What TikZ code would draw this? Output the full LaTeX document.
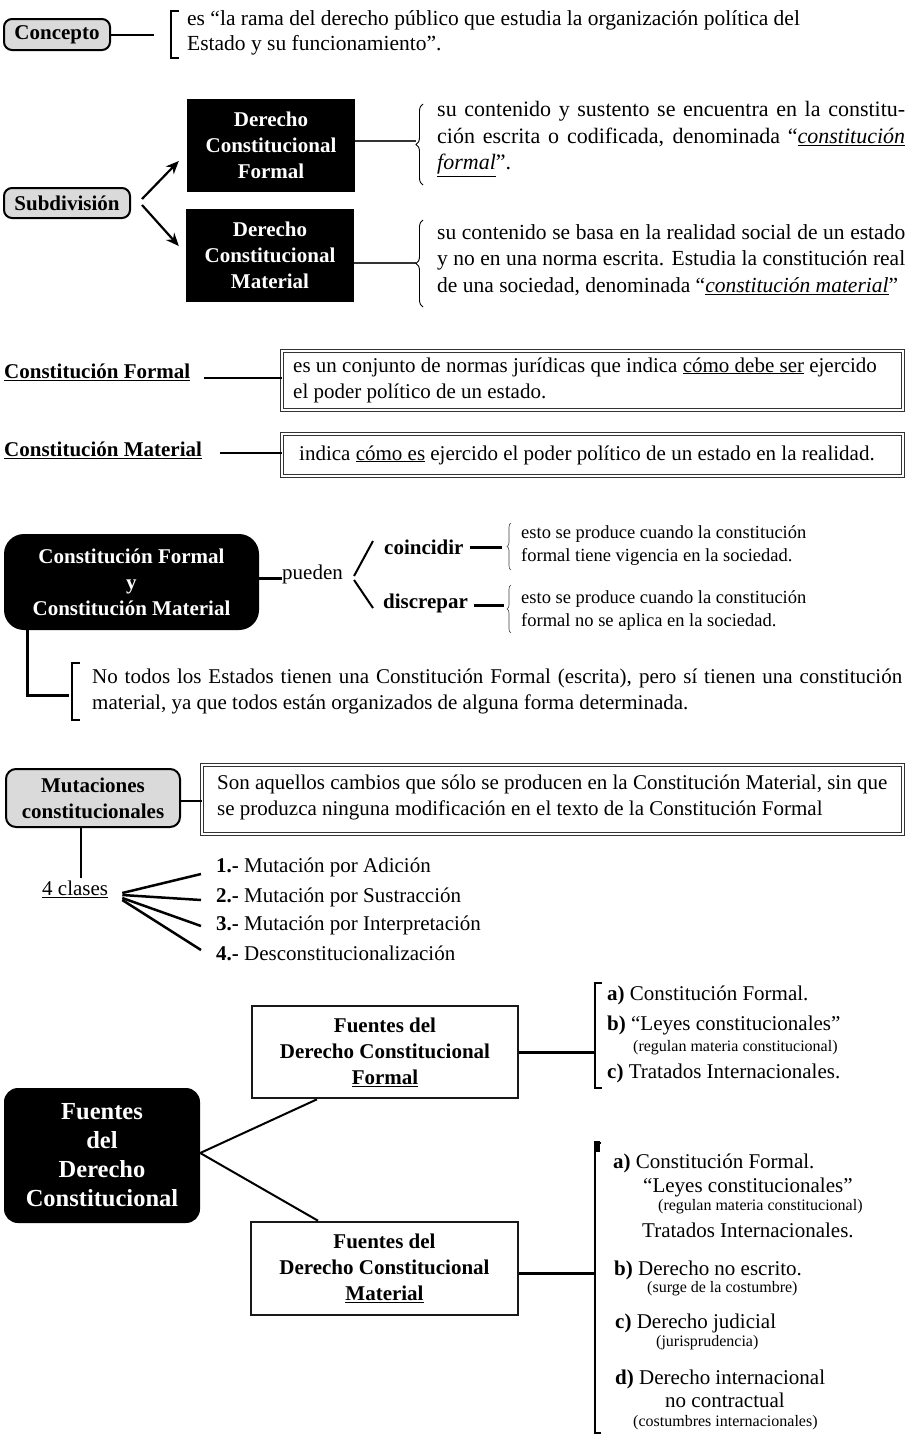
\documentclass[tikz,border=0pt]{standalone}
\usepackage{fontspec}
\setmainfont{Liberation Serif}
\usetikzlibrary{arrows.meta,decorations.pathreplacing}
\definecolor{boxgray}{RGB}{218,218,218}
\newcommand\fbody{\fontsize{21}{26}\selectfont}
\newcommand\fbodyl{\fontsize{21.5}{26.5}\selectfont}
\newcommand\fbodyx{\fontsize{22}{26.5}\selectfont}
\newcommand\fsmall{\fontsize{18.5}{23}\selectfont}
\newcommand\ftiny{\fontsize{16}{19}\selectfont}
\newcommand\fbig{\fontsize{24.5}{29}\selectfont}
\begin{document}
\begin{tikzpicture}[x=1pt,y=-1pt,
  lbl/.style={inner sep=0pt, anchor=west, font=\fbody},
  slbl/.style={inner sep=0pt, anchor=west, font=\ftiny},
  graybox/.style={draw, line width=2pt, fill=boxgray, rounded corners=8pt, font=\fbody\bfseries, inner sep=0pt, align=center},
  blackbox/.style={fill=black, text=white, font=\fbody\bfseries, align=center, inner sep=0pt},
  dblbox/.style={draw=black!80, double, double distance=1.3pt, line width=0.9pt, inner sep=0pt},
  fbox/.style={draw=black!90, line width=2.6pt, inner sep=0pt, align=center, font=\fbody\bfseries},
  conn/.style={line width=1.2pt},
  mconn/.style={line width=2pt},
  tconn/.style={line width=3pt},
  brk/.style={line width=2.6pt},
  brc/.style={line width=0.9pt, decorate, decoration={brace, amplitude=7pt}},
  sbrc/.style={line width=0.6pt, black!75, decorate, decoration={brace, amplitude=4pt}},
  arr/.style={line width=2.2pt, -{Stealth[length=13pt,width=11pt]}}
]
\useasboundingbox (0,0) rectangle (907,1435);
\fill[white] (0,0) rectangle (907,1435);

% ---- Concepto
\node[graybox, minimum width=106pt, minimum height=31pt] (concepto) at (57,34.5) {Concepto};
\coordinate (cbr) at (154,34.5);
\draw[mconn] (concepto.east) -- (cbr);
\draw[brk] (179,11) -- (171,11) -- (171,58) -- (179,58);
\node[lbl, align=left, font=\fontsize{21.5}{24.5}\selectfont] (ctext) at (187,33) {es “la rama del derecho público que estudia la organización política del\\Estado y su funcionamiento”.};

% ---- Subdivision
\node[graybox, minimum width=126pt, minimum height=30pt] (sub) at (67,203) {Subdivisión};
\node[blackbox, minimum width=168pt, minimum height=93pt] (dcf) at (271,145.5) {Derecho\\Constitucional\\Formal};
\node[blackbox, minimum width=168pt, minimum height=93pt] (dcm) at (270,255.5) {Derecho\\Constitucional\\Material};
\draw[arr] ([xshift=11pt,yshift=4pt]sub.east) -- ([xshift=-8pt,yshift=-15.5pt]dcf.west);
\draw[arr] ([xshift=11pt,yshift=-2pt]sub.east) -- ([xshift=-7pt,yshift=9.5pt]dcm.west);

\coordinate (b1) at (416,141);
\draw[conn, black!80] ([yshift=4.5pt]dcf.east) -- (b1);
\draw[brc] (423,185) -- (423,104);
\node[lbl, font=\fbodyx, anchor=west, text width=468pt, align=justify] (t1) at (437,139) {su contenido y sustento se encuentra en la constitu-\linebreak ción escrita o codificada, denominada “\underline{\textit{constitución}}\linebreak \underline{\textit{formal}}”.};

\coordinate (b2) at (416,263);
\draw[conn, black!80] ([yshift=-7.5pt]dcm.east) -- (b2);
\draw[brc] (423,307) -- (423,220);
\node[lbl, font=\fbodyl, anchor=west, text width=468pt, align=justify] (t2) at (437,260) {su contenido se basa en la realidad social de un estado\linebreak y no en una norma escrita. Estudia la constitución real\linebreak de una sociedad, denominada “\underline{\textit{constitución material}}”};

% ---- Constitucion Formal / Material
\node[lbl, font=\fbody\bfseries] (cfl) at (4,372) {\underline{Constitución Formal}};
\node[dblbox, minimum width=621pt, minimum height=59pt] (cfb) at (592.5,380.5) {};
\draw[conn] ([xshift=14pt,yshift=-6pt]cfl.east) -- ([yshift=-6pt]cfl.east -| cfb.west);
\node[lbl, align=left] (cft) at (293,380) {es un conjunto de normas jurídicas que indica \underline{cómo debe ser} ejercido\\el poder político de un estado.};

\node[lbl, font=\fbody\bfseries] (cml) at (4,450) {\underline{Constitución Material}};
\node[dblbox, minimum width=621pt, minimum height=42pt] (cmb) at (592.5,455) {};
\draw[conn] ([xshift=18pt,yshift=-3pt]cml.east) -- ([yshift=-3pt]cml.east -| cmb.west);
\node[lbl] (cmt) at (299,455) {indica \underline{cómo es} ejercido el poder político de un estado en la realidad.};

% ---- CF y CM
\node[blackbox, rounded corners=20pt, minimum width=255pt, minimum height=96pt] (cfcm) at (131.5,582) {Constitución Formal\\y\\Constitución Material};
\node[lbl] (pueden) at (282,574) {pueden};
\draw[tconn] ([yshift=4pt]cfcm.east) -- ([yshift=4pt]cfcm.east -| pueden.west);
\node[lbl, font=\fbody\bfseries] (coin) at (384,547) {coincidir};
\node[lbl, font=\fbody\bfseries] (disc) at (383,603) {discrepar};
\draw[mconn] ([xshift=11pt,yshift=-2pt]pueden.east) -- ([xshift=-11pt,yshift=6pt]coin.west);
\draw[mconn] ([xshift=11pt,yshift=-6pt]pueden.east) -- ([xshift=-10pt,yshift=-5pt]disc.west);
\coordinate (cb) at (502,547);
\coordinate (db) at (504,605);
\draw[tconn] ([xshift=6pt]coin.east) -- (cb);
\draw[tconn] ([xshift=6pt,yshift=-2pt]disc.east) -- (db);
\draw[sbrc] (511,570) -- (511,523);
\draw[sbrc] (511,633) -- (511,585);
\node[lbl, font=\fsmall, align=left] (cnote) at (521,545.5) {esto se produce cuando la constitución\\formal tiene vigencia en la sociedad.};
\node[lbl, font=\fsmall, align=left] (dnote) at (521,610.5) {esto se produce cuando la constitución\\formal no se aplica en la sociedad.};

\coordinate (nb) at (69,695);
\draw[tconn] ([xshift=-104.5pt]cfcm.south) |- (nb);
\draw[brk] (80,663) -- (72,663) -- (72,720) -- (80,720);
\node[lbl, text width=810pt, align=justify] (notodos) at (92,691) {No todos los Estados tienen una Constitución Formal (escrita), pero sí tienen una constitución\linebreak material, ya que todos están organizados de alguna forma determinada.};

% ---- Mutaciones
\node[graybox, rounded corners=10pt, minimum width=174pt, minimum height=58pt, font=\fbody\bfseries] (mut) at (93,798) {Mutaciones\\constitucionales};
\node[dblbox, minimum width=701pt, minimum height=69pt] (mutb) at (552.5,799.5) {};
\draw[conn] ([yshift=-3pt]mut.east) -- ([yshift=-3pt]mut.east -| mutb.west);
\node[lbl, align=left] (mutt) at (217,797) {Son aquellos cambios que sólo se producen en la Constitución Material, sin que\\se produzca ninguna modificación en el texto de la Constitución Formal};

\node[lbl] (clases) at (42,889) {\underline{4 clases}};
\coordinate (clt) at (81,878);
\draw[mconn] (mut.south -| clt) -- (clt);
\node[lbl] (m1) at (216,867) {\textbf{1.-} Mutación por Adición};
\node[lbl] (m2) at (216,897) {\textbf{2.-} Mutación por Sustracción};
\node[lbl] (m3) at (216,925) {\textbf{3.-} Mutación por Interpretación};
\node[lbl] (m4) at (216,953) {\textbf{4.-} Desconstitucionalización};
\draw[line width=2.5pt] ([xshift=14pt,yshift=-4pt]clases.east) -- ([xshift=-15pt,yshift=-7pt]m1.west);
\draw[line width=2.5pt] ([xshift=14pt,yshift=-6pt]clases.east) -- ([xshift=-15pt,yshift=-3pt]m2.west);
\draw[line width=2.5pt] ([xshift=14pt,yshift=-9pt]clases.east) -- ([xshift=-15pt,yshift=-1pt]m3.west);
\draw[line width=2.5pt] ([xshift=14pt,yshift=-11pt]clases.east) -- ([xshift=-15pt,yshift=3pt]m4.west);

% ---- Fuentes
\node[blackbox, rounded corners=14pt, font=\fbig\bfseries, minimum width=196pt, minimum height=135pt] (fdc) at (102,1155.5) {Fuentes\\del\\Derecho\\Constitucional};
\node[fbox, minimum width=266pt, minimum height=92pt] (ff) at (385,1052) {Fuentes del\\Derecho Constitucional\\\underline{Formal}};
\node[fbox, minimum width=267pt, minimum height=93pt] (fm) at (384.5,1268.5) {Fuentes del\\Derecho Constitucional\\\underline{Material}};
\draw[mconn] ([yshift=2.5pt]fdc.east) -- ([xshift=-68pt]ff.south);
\draw[mconn] ([yshift=2.5pt]fdc.east) -- ([xshift=-66.5pt]fm.north);

\coordinate (ffb) at (595,1052);
\draw[tconn] (ff.east) -- (ffb);
\draw[brk] (602,983) -- (595,983) -- (595,1088) -- (602,1088);
\node[lbl] (fa) at (607,995) {\textbf{a)} Constitución Formal.};
\node[lbl] (fb) at (607,1025) {\textbf{b)} “Leyes constitucionales”};
\node[slbl] (fbn) at (633,1048) {(regulan materia constitucional)};
\node[lbl] (fc) at (607,1073) {\textbf{c)} Tratados Internacionales.};

\coordinate (fmb) at (595,1273);
\draw[tconn] ([yshift=-4.5pt]fm.east) -- (fmb);
\draw[brk] (601,1143) -- (595,1143) -- (595,1433) -- (601,1433);
\fill (594,1141) rectangle (600,1152);
\node[lbl] (ma) at (613,1163) {\textbf{a)} Constitución Formal.};
\node[lbl] (ml) at (643,1187) {“Leyes constitucionales”};
\node[slbl] (mln) at (658,1207) {(regulan materia constitucional)};
\node[lbl] (mt) at (642,1230) {Tratados Internacionales.};
\node[lbl] (mb) at (614,1270) {\textbf{b)} Derecho no escrito.};
\node[slbl] (mbn) at (647,1289) {(surge de la costumbre)};
\node[lbl] (mc) at (615,1323) {\textbf{c)} Derecho judicial};
\node[slbl] (mcn) at (656,1343) {(jurisprudencia)};
\node[lbl] (md) at (615,1379) {\textbf{d)} Derecho internacional};
\node[lbl] (md2) at (665,1400) {no contractual};
\node[slbl] (mdn) at (633,1423) {(costumbres internacionales)};
\end{tikzpicture}
\end{document}
